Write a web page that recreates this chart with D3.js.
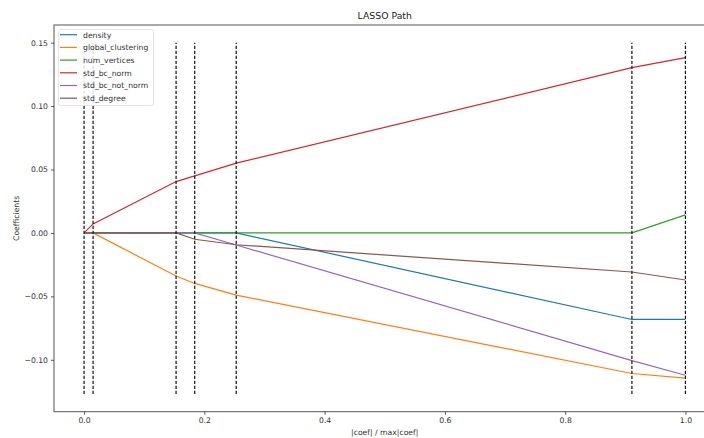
<!DOCTYPE html>
<html>
<head>
<meta charset="utf-8">
<script src="https://cdn.jsdelivr.net/npm/d3@7"></script>
<style>
  body { margin: 0; background: #fff; }
  svg { display: block; font-family: "DejaVu Sans", sans-serif; }
</style>
</head>
<body>
<svg id="chart" width="704" height="438"></svg>
<script>
// breakpoints of the path (alpha values, normalised)
const xs = [0, 0.015, 0.153, 0.184, 0.253, 0.911, 1.0];

const featureNames = ["density", "global_clustering", "num_vertices", "std_bc_norm", "std_bc_not_norm", "std_degree"];
const density        = [0, 0, 0, 0, 0, -0.0682, -0.0682];
const globalClust    = [0, 0, -0.034, -0.0398, -0.049, -0.1108, -0.1145];
const numVertices    = [0, 0, 0, 0, 0, 0, 0.0142];
const stdBcNorm      = [0, 0.0071, 0.0405, 0.045, 0.055, 0.1303, 0.1382];
const stdBcNotNorm   = [0, 0, 0, 0, -0.0095, -0.1006, -0.1122];
const stdDegree      = [0, 0, 0, -0.005, -0.0093, -0.0308, -0.0371];
const coefs = [density, globalClust, numVertices, stdBcNorm, stdBcNotNorm, stdDegree];

const colors = ["#1f77b4", "#ff7f0e", "#2ca02c", "#d62728", "#9467bd", "#8c564b"];
const xTicks = [0, 0.2, 0.4, 0.6, 0.8, 1.0];
const yTicks = [-0.10, -0.05, 0, 0.05, 0.10, 0.15];
const vlineRange = [-0.127, 0.150];

const svg = d3.select("#chart");
const m = { left: 54, right: 715.5, top: 25, bottom: 411.7 };

const x = d3.scaleLinear().domain([-0.05, 1.05]).range([m.left, m.right]);
const y = d3.scaleLinear().domain([-0.1409, 0.1639]).range([m.bottom, m.top]);

const fmt = d => d3.format(".1f")(d).replace("-", "\u2212");
const fmtY = d => d3.format(".2f")(d).replace("-", "\u2212");

// coefficient paths
const line = d3.line().x((d, i) => x(xs[i])).y(d => y(d));
svg.append("g").selectAll("path")
  .data(coefs)
  .join("path")
  .attr("d", line)
  .attr("fill", "none")
  .attr("stroke", (d, i) => colors[i])
  .attr("stroke-width", 1.2);

// dashed breakpoint lines
svg.append("g").selectAll("line")
  .data(xs)
  .join("line")
  .attr("x1", d => x(d)).attr("x2", d => x(d))
  .attr("y1", y(vlineRange[0])).attr("y2", y(vlineRange[1]))
  .attr("stroke", "#111")
  .attr("stroke-width", 1.2)
  .attr("stroke-dasharray", "3.3,1.7");

// axes
const xAxis = d3.axisBottom(x).tickValues(xTicks).tickFormat(fmt).tickSize(3).tickPadding(3);
const yAxis = d3.axisLeft(y).tickValues(yTicks).tickFormat(fmtY).tickSize(3).tickPadding(3);

svg.append("g").attr("transform", `translate(0,${m.bottom})`).call(xAxis)
  .call(g => g.select(".domain").remove());
svg.append("g").attr("transform", `translate(${m.left},0)`).call(yAxis)
  .call(g => g.select(".domain").remove());
svg.selectAll(".tick text").attr("font-size", 7.7).attr("fill", "#333").attr("font-family", "DejaVu Sans");
svg.selectAll(".tick line").attr("stroke", "#555");

// spines
svg.append("rect")
  .attr("x", m.left).attr("y", m.top)
  .attr("width", m.right - m.left).attr("height", m.bottom - m.top)
  .attr("fill", "none").attr("stroke", "#555").attr("stroke-width", 1);

// labels
svg.append("text").attr("x", (m.left + m.right) / 2).attr("y", 19)
  .attr("text-anchor", "middle").attr("font-size", 9.3).attr("fill", "#222")
  .text("LASSO Path");
svg.append("text").attr("x", (m.left + m.right) / 2).attr("y", 435)
  .attr("text-anchor", "middle").attr("font-size", 7.7).attr("fill", "#333")
  .text("|coef| / max|coef|");
svg.append("text")
  .attr("transform", `translate(19,${(m.top + m.bottom) / 2}) rotate(-90)`)
  .attr("text-anchor", "middle").attr("font-size", 7.7).attr("fill", "#333")
  .text("Coefficients");

// legend
const legend = svg.append("g");
legend.append("rect")
  .attr("x", 58.5).attr("y", 29.5).attr("width", 95).attr("height", 76).attr("rx", 2)
  .attr("fill", "rgba(255,255,255,0.85)").attr("stroke", "#ddd").attr("stroke-width", 0.8);
const items = legend.selectAll("g.item")
  .data(featureNames)
  .join("g")
  .attr("class", "item")
  .attr("transform", (d, i) => `translate(0,${34.7 + i * 12.7})`);
items.append("line")
  .attr("x1", 60).attr("x2", 77).attr("y1", 0).attr("y2", 0)
  .attr("stroke", (d, i) => colors[i]).attr("stroke-width", 1.2);
items.append("text")
  .attr("x", 83).attr("y", 2.8)
  .attr("font-size", 7.7).attr("fill", "#333")
  .text(d => d);
</script>
</body>
</html>
